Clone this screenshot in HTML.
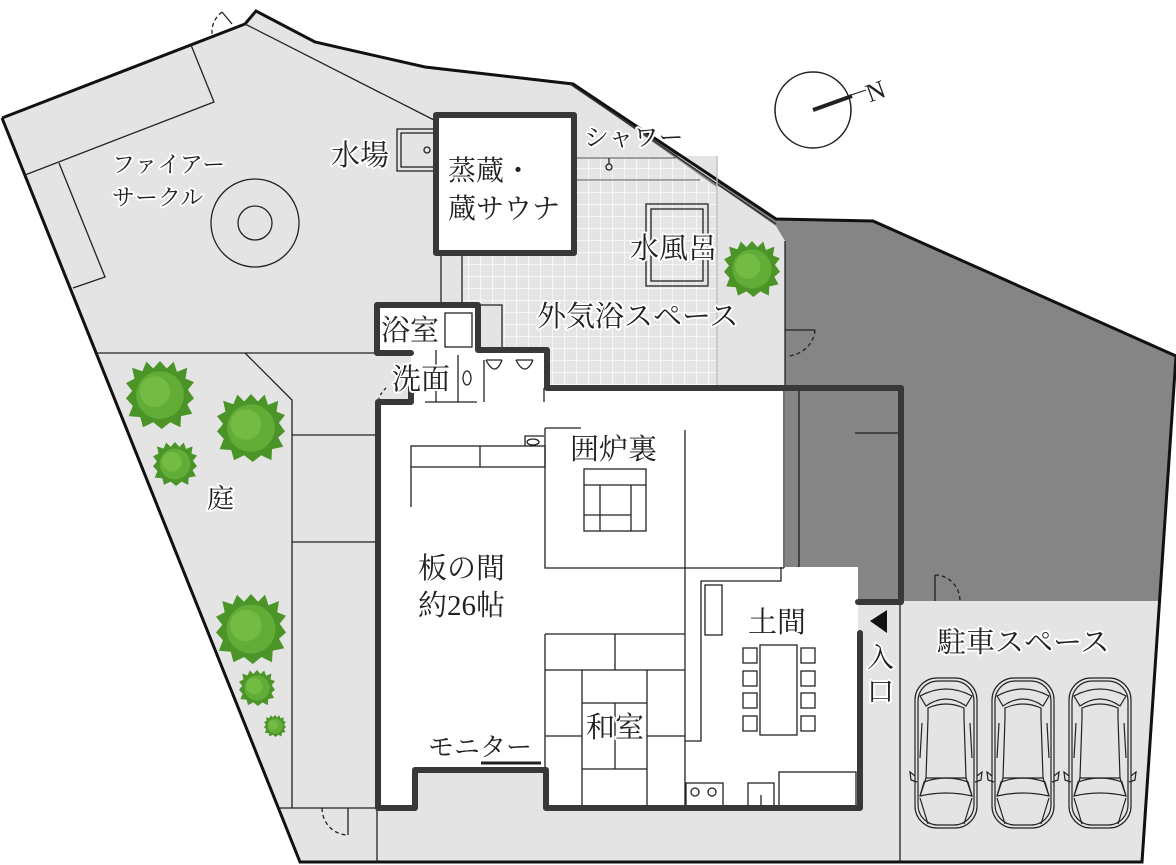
<!DOCTYPE html>
<html><head><meta charset="utf-8"><style>
html,body{margin:0;padding:0;background:#fff;}
svg{display:block}
text{font-family:"Liberation Serif","Noto Serif CJK SC","Noto Serif CJK JP",serif;fill:#222;stroke:#fff;stroke-width:4px;paint-order:stroke;stroke-linejoin:round}
</style></head><body>
<svg width="1176" height="865" viewBox="0 0 1176 865" xmlns="http://www.w3.org/2000/svg">
<defs>
<pattern id="tile" width="12" height="12" patternUnits="userSpaceOnUse">
<rect width="12" height="12" fill="#e4e4e4"/>
<path d="M0 0.5H12M0.5 0V12" stroke="#f6f6f6" stroke-width="1.2"/>
</pattern>
<g id="tree">
<polygon points="0,-1 0.2,-0.78 0.4,-0.98 0.5,-0.68 0.8,-0.8 0.75,-0.48 1,-0.38 0.82,-0.15 1,0.1 0.8,0.28 0.95,0.55 0.62,0.62 0.6,0.95 0.3,0.8 0.05,1 -0.2,0.8 -0.5,0.95 -0.58,0.65 -0.92,0.62 -0.8,0.32 -1,0.1 -0.82,-0.12 -1,-0.35 -0.75,-0.48 -0.82,-0.8 -0.52,-0.7 -0.4,-0.98 -0.2,-0.78" fill="#4a9428"/>
<circle r="0.7" fill="#62ad37"/>
<circle cx="-0.15" cy="-0.1" r="0.45" fill="#74bb44"/>
</g>
<g id="car" fill="none" stroke="#222" stroke-width="1.2">
<rect x="-31" y="0" width="62" height="150" rx="22"/>
<rect x="-28" y="3" width="56" height="144" rx="20"/>
<path d="M-20 28 Q0 14 20 28 L26 18 Q0 4 -26 18 Z"/>
<path d="M-18 40 L-18 30 Q0 22 18 30 L18 40"/>
<path d="M-18 40 L-20 100 L20 100 L18 40"/>
<path d="M-22 104 Q0 96 22 104 L26 118 Q0 112 -26 118 Z"/>
<path d="M-26 120 L-18 146 M26 120 L18 146"/>
<path d="M-20 100 L-26 118 M20 100 L26 118"/>
<path d="M-31 98 L-36 94 L-35 102 L-29 104 M31 98 L36 94 L35 102 L29 104"/>
<path d="M-24 45 L-26 80 M24 45 L26 80"/>
</g>
</defs>

<polygon points="2,118 245,24 256,11 315,42 425,67 573,84 776,219 873,221 1176,356 1142,862 300,862" fill="#e4e4e4"/>
<polygon points="570,84 776,219 873,221 1176,356 1160,601 858,601 858,567 785,567 785,241 775,228" fill="#858585"/>
<polygon points="574,158 676,158 775,230 785,241 785,388 547,388 547,350 478,350 478,305 462,305 462,253 574,253" fill="url(#tile)"/>
<rect x="717" y="240" width="68" height="148" fill="#e4e4e4"/>
<polygon points="676,156 776,226 785,241 785,250 717,250 717,156" fill="#e4e4e4"/>
<rect x="441" y="253" width="21" height="52" fill="#e4e4e4"/>
<rect x="478" y="305" width="24" height="45" fill="#e4e4e4"/>
<path d="M574 180H700 M574 158H676" stroke="#555" stroke-width="1"/>
<polygon points="900,601 1160,601 1142,862 900,862" fill="#e4e4e4"/>

<polygon points="378,402 411,402 411,350 547,350 547,388 785,388 785,567 858,567 858,808 546,808 546,770 415,770 415,808 378,808" fill="#fff"/>
<rect x="377" y="305" width="101" height="48" fill="#fff"/>

<polyline points="2,118 245,24 256,11 315,42 425,67 573,84 776,219 873,221 1176,356 1142,862 300,862 2,118" fill="none" stroke="#111" stroke-width="3"/>
<path d="M570 84 L776 224" stroke="#333" stroke-width="1.5"/>

<g fill="none" stroke="#222" stroke-width="1.3">
<polyline points="191,45 214,102 25,175"/>
<polyline points="59,163 105,277 73,288"/>
<path d="M245 24 L434 120"/>
<path d="M96 353H377 M245 353 L292 400 V808 M292 435H377 M292 542H377 M280 808H377 M377 808V862"/>
<circle cx="255" cy="223" r="44"/>
<circle cx="255" cy="223" r="17"/>
<rect x="397" y="129" width="39" height="42"/><rect x="401" y="133" width="35" height="34"/>
<circle cx="427" cy="150" r="3"/>
<path d="M441 253V305 M462 253V305 M478 305H502V350"/>
<path d="M717 156V388" stroke="#bbb"/>
<circle cx="609" cy="167" r="3"/><path d="M609 158V164"/>
<rect x="646" y="204" width="62" height="82"/><rect x="651" y="209" width="52" height="72"/>
<path d="M785 241V388"/>
<path d="M785 330H815" /><path d="M815 330 A30 28 0 0 1 789 356" stroke-dasharray="4 3"/>
<path d="M348 808V835"/><path d="M322 808 A26 27 0 0 0 348 835" stroke-dasharray="4 3"/>
<path d="M935 575V601"/><path d="M935 575 A25 26 0 0 1 960 601" stroke-dasharray="4 3"/>
<path d="M222 12 L232 24"/><path d="M222 12 A25 25 0 0 0 212 34" stroke-dasharray="4 3"/>
<path d="M386 388 A25 25 0 0 0 378 402" stroke-dasharray="3 3"/>
<rect x="445" y="313" width="27" height="34" fill="#fff"/>
<path d="M436 350V402 M458 355V402 M484 360V402 M544 388V402 M425 402H477"/>
<path d="M486 360 Q495 378 502 360 M516 360 Q525 378 533 360" />
<path d="M486 360H502 M516 360H533"/>
<ellipse cx="467" cy="378" rx="4" ry="7"/>
<path d="M799 388V567 M855 433H900"/>
</g>

<g fill="none" stroke="#222" stroke-width="1.3">
<path d="M545 428H581 M545 428V568H784 M685 430V807 M784 388V568"/>
<rect x="411" y="446" width="134" height="21"/><path d="M480 446V467 M411 467V507"/>
<path d="M525 446 V436 H544"/><ellipse cx="533" cy="442" rx="6" ry="3"/>
<rect x="584" y="469" width="62" height="62"/>
<path d="M584 485H646 M600 485V531 M584 515H631 M631 485V531 M600 485V515"/>
<path d="M545 634H685 M545 634V770 M545 670H685 M615 634V670 M582 670V807 M647 670V807 M545 736H582 M647 736H685 M582 703H647 M582 769H647 M615 703V769"/>
<path d="M685 741H701V581H781V567"/>
<rect x="705" y="585" width="17" height="50"/>
<rect x="760" y="645" width="37" height="90"/>
<rect x="743" y="648" width="14" height="15"/><rect x="743" y="671" width="14" height="15"/><rect x="743" y="693" width="14" height="15"/><rect x="743" y="716" width="14" height="15"/>
<rect x="801" y="648" width="14" height="15"/><rect x="801" y="671" width="14" height="15"/><rect x="801" y="693" width="14" height="15"/><rect x="801" y="716" width="14" height="15"/>
<rect x="686" y="783" width="37" height="24"/><circle cx="695" cy="792" r="4"/><circle cx="712" cy="792" r="4"/>
<rect x="748" y="783" width="26" height="24"/><path d="M761 795V807"/>
<rect x="779" y="772" width="77" height="35"/>
<path d="M900 601V862"/>
</g>

<g fill="none" stroke="#383838" stroke-width="6" stroke-linejoin="round" stroke-linecap="round">
<rect x="436" y="115" width="138" height="138" fill="#fff"/>
<polyline points="411,388 411,402 378,402 378,808 415,808 415,770 546,770 546,808 860,808 860,633"/>
<polyline points="411,353 377,353 377,305 478,305 478,350 547,350 547,388 901,388 901,602 858,602"/>
</g>
<path d="M481 763H541" stroke="#222" stroke-width="3"/>
<polygon points="887,610 887,633 870,621" fill="#111"/>

<circle cx="813" cy="110" r="38" fill="none" stroke="#222" stroke-width="1.5"/>
<path d="M813 110 L852 96" stroke="#222" stroke-width="4"/>
<path d="M845 97 L866 90" stroke="#222" stroke-width="1"/>

<use href="#tree" transform="translate(160,395) scale(34)"/>
<use href="#tree" transform="translate(251,428) scale(34)"/>
<use href="#tree" transform="translate(175,464) scale(22)"/>
<use href="#tree" transform="translate(251,629) scale(35)"/>
<use href="#tree" transform="translate(257,688) scale(18)"/>
<use href="#tree" transform="translate(275,726) scale(11)"/>
<use href="#tree" transform="translate(752,269) scale(28)"/>

<use href="#car" transform="translate(946,678)"/>
<use href="#car" transform="translate(1023,678)"/>
<use href="#car" transform="translate(1100,678)"/>

<g font-size="29">
<text x="112" y="172" font-size="23">ファイアー</text>
<text x="112" y="205" font-size="23">サークル</text>
<text x="331" y="165">水場</text>
<text x="448" y="180" font-size="28">蒸蔵・</text>
<text x="448" y="218" font-size="28">蔵サウナ</text>
<text x="584" y="146" font-size="25">シャワー</text>
<text x="630" y="258">水風呂</text>
<text x="537" y="326">外気浴スペース</text>
<text x="381" y="340">浴室</text>
<text x="392" y="389">洗面</text>
<text x="207" y="508" font-size="27">庭</text>
<text x="570" y="459">囲炉裏</text>
<text x="418" y="578">板の間</text>
<text x="418" y="615">約26帖</text>
<text x="748" y="632">土間</text>
<text x="586" y="737">和室</text>
<text x="428" y="756" font-size="26">モニター</text>
<text x="937" y="652">駐車スペース</text>
<text x="867" y="667" font-size="27">入</text>
<text x="867" y="701" font-size="27">口</text>
<text x="866" y="99" font-size="26" transform="rotate(-20 878 90)">N</text>
</g>
</svg>
</body></html>
